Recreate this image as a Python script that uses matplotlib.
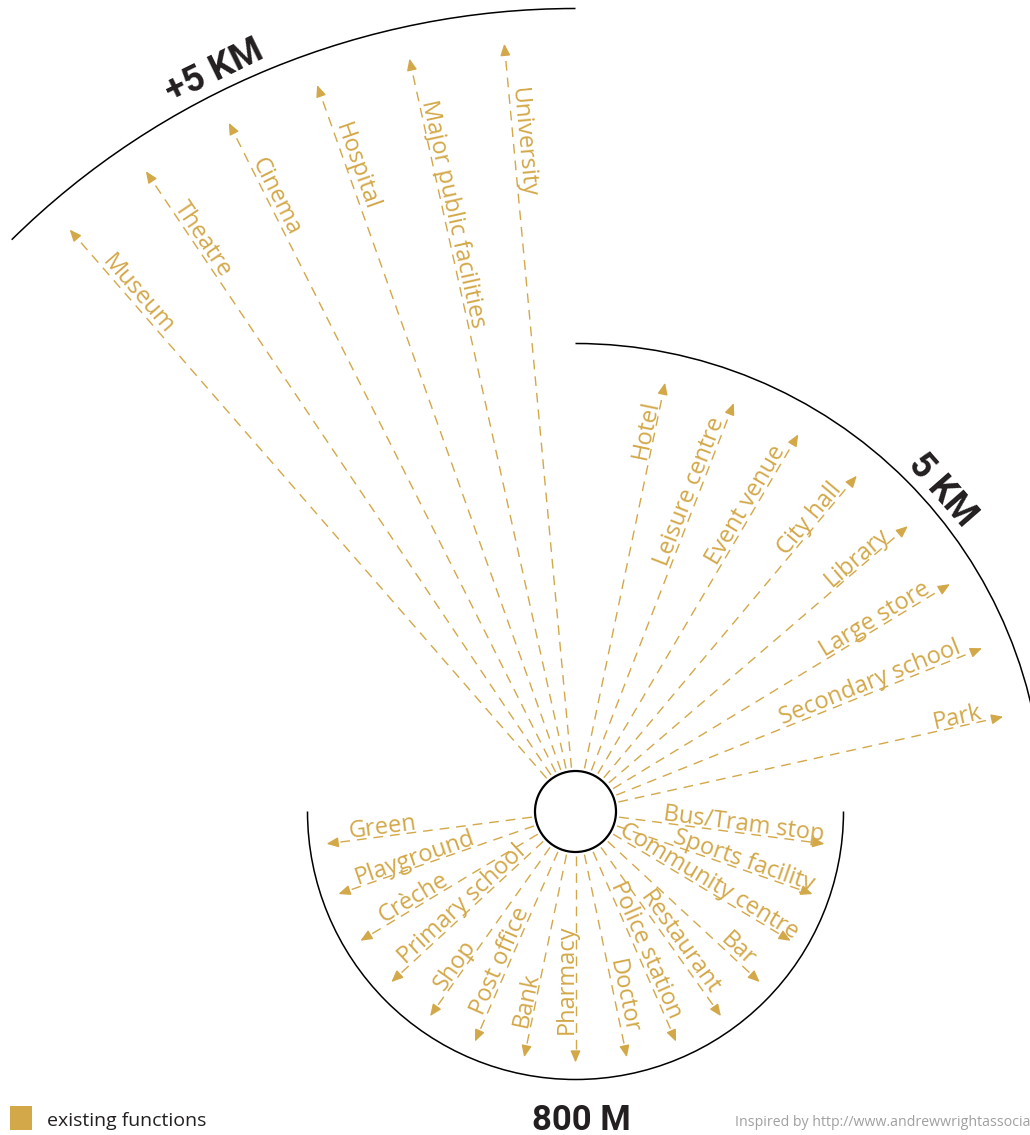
import numpy as np
import matplotlib
matplotlib.use('Agg')
import matplotlib.pyplot as plt
from matplotlib.patches import Arc, Circle, Rectangle

plt.rcParams['font.family'] = ['Open Sans', 'DejaVu Sans']

GOLD = '#D3A848'

# functions reachable in each distance band
near_names = ['Bus/Tram stop', 'Sports facility', 'Community centre', 'Bar',
              'Restaurant', 'Police station', 'Doctor', 'Pharmacy', 'Bank',
              'Post office', 'Shop', 'Primary school', 'Crèche', 'Playground',
              'Green']
mid_names = ['Hotel', 'Leisure centre', 'Event venue', 'City hall', 'Library',
             'Large store', 'Secondary school', 'Park']
far_names = ['University', 'Major public facilities', 'Hospital', 'Cinema',
             'Theatre', 'Museum']
band_labels = ['800 M', '5 KM', '+5 KM']
legend_label = 'existing functions'
credit = 'Inspired by http://www.andrewwrightassociates.co.uk'

# layout (1 data unit = 1 pixel, hub at origin)
near_angles = np.linspace(-7.4, -172.6, len(near_names))
mid_angles = np.linspace(78.2, 12.5, len(mid_names))
far_angles = np.linspace(95.3, 131.0, len(far_names))
near_label_end = [249, 249, 252, 232, 228, 229, 228, 222, 222, 224, 223, 229, 222, 230, 228]
mid_label_end = [418] * len(mid_names)
far_label_end = [726] * len(far_names)

HUB_R = 40.5
START_R = 44
HEAD = 10

fig = plt.figure(figsize=(10.3, 11.35), dpi=100)
ax = fig.add_axes([0, 0, 1, 1])
ax.set_xlim(-575.5, 454.5)
ax.set_ylim(-323.5, 811.5)
ax.set_aspect('equal')
ax.axis('off')


def spoke(ang, length):
    u = np.array([np.cos(np.radians(ang)), np.sin(np.radians(ang))])
    p0, p1, p2 = START_R * u, (length - HEAD) * u, length * u
    ax.plot([p0[0], p1[0]], [p0[1], p1[1]], color=GOLD, lw=1.0, dashes=(7, 5),
            solid_capstyle='butt', dash_capstyle='butt')
    ax.annotate('', xy=p2, xytext=p1,
                arrowprops=dict(arrowstyle='-|>,head_length=0.35,head_width=0.15',
                                color=GOLD, lw=1.0, shrinkA=0, shrinkB=0,
                                mutation_scale=20))


def label(ang, r_end, name):
    u = np.array([np.cos(np.radians(ang)), np.sin(np.radians(ang))])
    if u[0] > 1e-6:
        rot, ha = ang, 'right'
        up = np.array([-u[1], u[0]])
    else:
        rot, ha = ang + 180, 'left'
        up = np.array([u[1], -u[0]])
    x, y = r_end * u + 3 * up
    ax.text(x, y, name, rotation=rot, rotation_mode='anchor', ha=ha,
            va='baseline', fontsize=17, color=GOLD)


for names, angs, ends, length in [(near_names, near_angles, near_label_end, 251),
                                  (mid_names, mid_angles, mid_label_end, 438),
                                  (far_names, far_angles, far_label_end, 771)]:
    for n, a, e in zip(names, angs, ends):
        spoke(a, length)
        label(a, e, n)

# distance arcs
ax.add_patch(Arc((0, 0), 2 * 268, 2 * 268, theta1=180, theta2=360, color='black', lw=1.1))
ax.add_patch(Arc((0, 0), 2 * 468, 2 * 468, theta1=0, theta2=90, color='black', lw=1.1))
ax.add_patch(Arc((0, 0), 2 * 803, 2 * 803, theta1=90, theta2=134.6, color='black', lw=1.1))
ax.add_patch(Circle((0, 0), HUB_R, facecolor='white', edgecolor='black', lw=1.6, zorder=5))

# band names
for txt, ang, r in [(band_labels[2], 116.0, 814), (band_labels[1], 41.2, 478)]:
    u = np.array([np.cos(np.radians(ang)), np.sin(np.radians(ang))])
    ax.text(*(r * u), txt, rotation=ang - 90, rotation_mode='anchor', ha='center',
            va='baseline', fontsize=26, fontweight='bold', color='#231F20',
            family=['Roboto', 'DejaVu Sans'])
ax.text(6, -318, band_labels[0], ha='center', va='baseline', fontsize=25,
        fontweight='bold', color='#231F20', family=['Roboto', 'DejaVu Sans'])

# legend and credit
fig.patches.append(Rectangle((10 / 1030, 5 / 1135), 22 / 1030, 24 / 1135,
                             transform=fig.transFigure, facecolor=GOLD, edgecolor='none'))
fig.text(47 / 1030, 9 / 1135, legend_label, fontsize=14, color='#231F20', va='baseline')
fig.text(735 / 1030, 9 / 1135, credit, fontsize=10.2, color='#A0A0A0', va='baseline')

fig.savefig('out.png', dpi=100)
